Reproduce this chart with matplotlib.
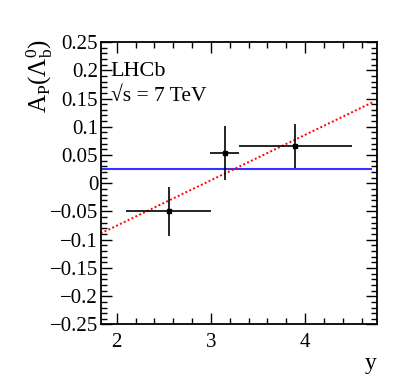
import matplotlib.pyplot as plt
import numpy as np
from matplotlib.ticker import MultipleLocator, FuncFormatter

# measured points
y_center = [2.55, 3.145, 3.895]
y_lo = [2.10, 2.99, 3.295]
y_hi = [3.00, 3.30, 4.50]
ap = [-0.050, 0.0535, 0.066]
ap_err = [0.044, 0.048, 0.039]

# fits
fit_range = [1.83, 4.70]
const_value = 0.0252
lin_slope = 0.0804
lin_offset = -0.2359

plt.rcParams['font.family'] = ['Liberation Serif', 'DejaVu Serif']
plt.rcParams['mathtext.fontset'] = 'custom'
plt.rcParams['mathtext.rm'] = 'Liberation Serif'
plt.rcParams['mathtext.it'] = 'Liberation Serif:italic'

fig = plt.figure(figsize=(3.99, 3.88), dpi=100)
ax = fig.add_axes([0.2531, 0.1637, 0.691, 0.728])

xc = np.array(y_center)
xerr = [xc - np.array(y_lo), np.array(y_hi) - xc]
ax.errorbar(xc, ap, xerr=xerr, yerr=ap_err, fmt='s', color='black',
            ms=2.5, lw=1.2, capsize=0, zorder=3)

fx = np.array(fit_range)
ax.plot(fx, [const_value, const_value], color='#3333ff', lw=1.5, zorder=2)
ax.plot([fx[0], 4.72], lin_offset + lin_slope * np.array([fx[0], 4.72]),
        color='red', lw=1.4, ls=(0, (1, 1.2)), zorder=2)

ax.set_xlim(1.833, 4.76)
ax.set_ylim(-0.25, 0.25)
ax.xaxis.set_major_locator(MultipleLocator(1))
ax.xaxis.set_minor_locator(MultipleLocator(0.2))
ax.yaxis.set_major_locator(MultipleLocator(0.05))
ax.yaxis.set_minor_locator(MultipleLocator(0.01))
ax.yaxis.set_major_formatter(FuncFormatter(
    lambda v, p: '0' if abs(v) < 1e-9 else ('%g' % v).replace('-', '\u2212')))
ax.tick_params(which='both', direction='in', top=True, right=True,
               labelsize=15, width=1.0)
ax.tick_params(which='major', length=8, pad=2)
ax.tick_params(which='minor', length=4)
ax.tick_params(axis='x', pad=6)
for s in ax.spines.values():
    s.set_linewidth(1.3)

ax.set_xlabel('y', fontsize=17, loc='right', labelpad=1)
fig.text(0.10, 0.90, r'$\mathrm{A_P(\Lambda_b^0)}$', rotation=90,
         ha='center', va='top', fontsize=18)

ax.text(0.035, 0.88, 'LHCb', transform=ax.transAxes, fontsize=16,
        ha='left', va='baseline')
ax.text(0.035, 0.79, '\u221as = 7 TeV', transform=ax.transAxes, fontsize=15.5,
        ha='left', va='baseline')

fig.savefig('out.png', dpi=100)
